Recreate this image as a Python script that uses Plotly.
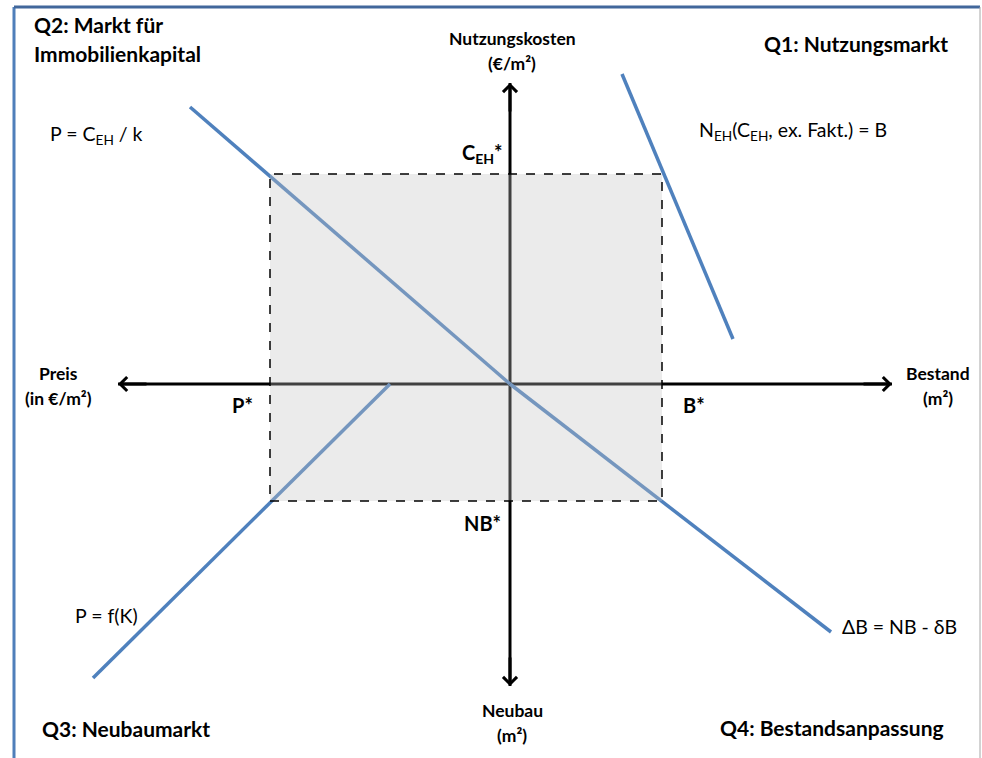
import plotly.graph_objects as go

# ---- schematic values (origin = crossing of the four axes) ----
P_star = -240    # equilibrium price P*  (left axis)
B_star = 152     # equilibrium stock B*  (right axis)
C_star = 210     # equilibrium user cost C_EH* (upper axis)
NB_star = -117   # equilibrium new construction NB* (lower axis)

axis_x = [-392, 382]   # Preis <-> Bestand
axis_y = [-302, 301]   # Neubau <-> Nutzungskosten

q1_x = [112, 223]      # N_EH(C_EH, ex. Fakt.) = B
q1_y = [310, 45]
q2_x = [-320, 0]       # P = C_EH / k
q2_y = [277, 0]
q3_x = [-417, -120]    # P = f(K)
q3_y = [-294, 0]
q4_x = [0, 321]        # ΔB = NB - δB
q4_y = [0, -248]

W, H = 982, 758
X_RANGE = [-510, 472]
Y_RANGE = [-374, 384]

FONT = "Lato"
BLUE = "#4f81bd"


def dx(px):
    return X_RANGE[0] + px * (X_RANGE[1] - X_RANGE[0]) / W


def dy(py):
    return Y_RANGE[1] - py * (Y_RANGE[1] - Y_RANGE[0]) / H


fig = go.Figure()

# axes
fig.add_trace(go.Scatter(x=axis_x, y=[0, 0], mode="lines",
                         line=dict(color="black", width=3), hoverinfo="skip"))
fig.add_trace(go.Scatter(x=[0, 0], y=axis_y, mode="lines",
                         line=dict(color="black", width=3), hoverinfo="skip"))

# curves
for xs, ys in [(q1_x, q1_y), (q2_x, q2_y), (q3_x, q3_y), (q4_x, q4_y)]:
    fig.add_trace(go.Scatter(x=xs, y=ys, mode="lines",
                             line=dict(color=BLUE, width=3.5), hoverinfo="skip"))

# equilibrium rectangle (drawn above the lines, semi transparent grey)
fig.add_shape(type="rect", x0=P_star, x1=B_star, y0=NB_star, y1=C_star,
              xref="x", yref="y", layer="above",
              line=dict(color="black", width=1.5, dash="dash"),
              fillcolor="rgba(194,194,194,0.33)")

# frame
fig.add_shape(type="line", xref="paper", yref="paper",
              x0=14 / W, x1=14 / W, y0=-0.02, y1=1 - 7 / H,
              line=dict(color="#4f7fba", width=3))
fig.add_shape(type="line", xref="paper", yref="paper",
              x0=14 / W, x1=980 / W, y0=1 - 7 / H, y1=1 - 7 / H,
              line=dict(color="#41679b", width=3))
fig.add_shape(type="line", xref="paper", yref="paper",
              x0=980 / W, x1=980 / W, y0=-0.02, y1=1 - 7 / H,
              line=dict(color="#a6a6a6", width=1))

annotations = []

# arrow heads
arrow_common = dict(xref="x", yref="y", axref="x", ayref="y", text="",
                    showarrow=True, arrowhead=4, arrowsize=0.9, arrowwidth=3,
                    arrowcolor="black")
annotations.append(dict(x=axis_x[1], y=0, ax=axis_x[1] - 30, ay=0, **arrow_common))
annotations.append(dict(x=axis_x[0], y=0, ax=axis_x[0] + 30, ay=0, **arrow_common))
annotations.append(dict(x=0, y=axis_y[1], ax=0, ay=axis_y[1] - 30, **arrow_common))
annotations.append(dict(x=0, y=axis_y[0], ax=0, ay=axis_y[0] + 30, **arrow_common))


def label(text, px, py, xanchor="left", size=17, bold=False):
    t = f"<b>{text}</b>" if bold else text
    annotations.append(dict(x=dx(px), y=dy(py), xref="x", yref="y", text=t,
                            showarrow=False, xanchor=xanchor, yanchor="middle",
                            font=dict(family=FONT, size=size, color="black")))


TS = 21     # quadrant titles
AS = 17.5   # axis titles
ES = 20     # equilibrium labels
CS = 19.5   # curve labels

# quadrant titles
label("Q2: Markt für", 32, 24, "left", TS, True)
label("Immobilienkapital", 32, 53, "left", TS, True)
label("Q1: Nutzungsmarkt", 950, 43, "right", TS, True)
label("Q3: Neubaumarkt", 40, 728, "left", TS, True)
label("Q4: Bestandsanpassung", 946, 727, "right", TS, True)

# axis titles
label("Nutzungskosten", 512, 38, "center", AS, True)
label("(€/m²)", 512, 63, "center", AS, True)
label("Preis", 58, 373, "center", AS, True)
label("(in €/m²)", 58, 398, "center", AS, True)
label("Bestand", 938, 373, "center", AS, True)
label("(m²)", 938, 398, "center", AS, True)
label("Neubau", 512, 710, "center", AS, True)
label("(m²)", 512, 735, "center", AS, True)

# equilibrium labels
label("C<sub>EH</sub>*", 505, 153, "right", ES, True)
label("P*", 255, 405, "right", ES, True)
label("B*", 681, 405, "left", ES, True)
label("NB*", 503, 523, "right", ES, True)

# curve labels
label("P = C<sub>EH</sub> / k", 48, 135, "left", CS)
label("N<sub>EH</sub>(C<sub>EH</sub>, ex. Fakt.) = B", 697, 131, "left", CS)
label("P = f(K)", 73, 615, "left", CS)
label("ΔB = NB - δB", 840, 626, "left", CS)

fig.update_layout(
    width=W, height=H,
    margin=dict(l=0, r=0, t=0, b=0),
    paper_bgcolor="white", plot_bgcolor="white",
    showlegend=False,
    xaxis=dict(range=X_RANGE, visible=False, fixedrange=True),
    yaxis=dict(range=Y_RANGE, visible=False, fixedrange=True),
    annotations=annotations,
)

fig.write_html("out.html", config={"displayModeBar": False},
               post_script="document.body.style.margin='0';document.body.style.overflow='hidden';")
